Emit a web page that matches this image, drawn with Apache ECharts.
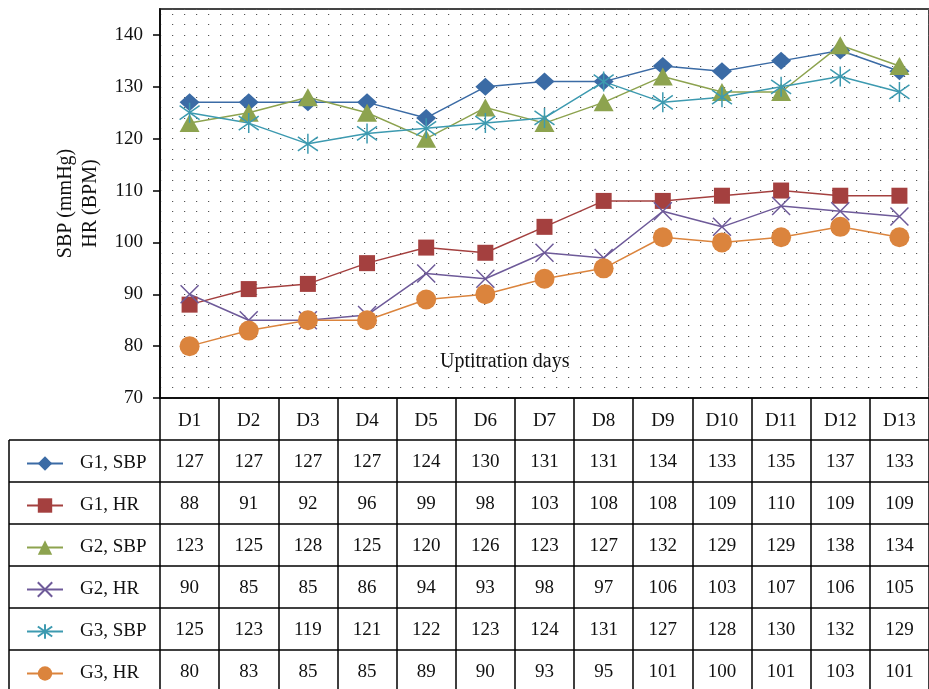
<!DOCTYPE html>
<html><head><meta charset="utf-8">
<script src="https://cdn.jsdelivr.net/npm/echarts@6/dist/echarts.min.js"></script>
<style>html,body{margin:0;padding:0;background:#fff}#c{width:929px;height:689px}</style>
</head><body><div id="c"></div>
<script>
const categories = ['D1','D2','D3','D4','D5','D6','D7','D8','D9','D10','D11','D12','D13'];
const g1SBP = [127,127,127,127,124,130,131,131,134,133,135,137,133];
const g1HR  = [88,91,92,96,99,98,103,108,108,109,110,109,109];
const g2SBP = [123,125,128,125,120,126,123,127,132,129,129,138,134];
const g2HR  = [90,85,85,86,94,93,98,97,106,103,107,106,105];
const g3SBP = [125,123,119,121,122,123,124,131,127,128,130,132,129];
const g3HR  = [80,83,85,85,89,90,93,95,101,100,101,103,101];
const yTicks = [70,80,90,100,110,120,130,140];
const seriesNames = ['G1, SBP','G1, HR','G2, SBP','G2, HR','G3, SBP','G3, HR'];
const seriesData = [g1SBP,g1HR,g2SBP,g2HR,g3SBP,g3HR];

const FONT = '"Liberation Serif", "DejaVu Serif", serif';
const colors = ['#3B6BA5','#A4403F','#8DA34F','#6E5A99','#3D9AB0','#DB843D'];
const symbols = ['diamond','rect','triangle',
  'path://M0,0L10,10M10,0L0,10',
  'path://M5,0L5,10M0,1.5L10,8.5M10,1.5L0,8.5',
  'circle'];
const sizes = [[20,18],16,[20,18],18,20,20];
const strokeOnly = [false,false,false,true,true,false];

const chart = echarts.init(document.getElementById('c'));
const series = seriesNames.map((n,i)=>({
  name:n, type:'line', data:seriesData[i], yAxisIndex:0,
  symbol:symbols[i], symbolSize:sizes[i],
  lineStyle:{color:colors[i], width:1.5},
  itemStyle: strokeOnly[i] ? {color:colors[i], borderColor:colors[i], borderWidth:1.5}
                           : {color:colors[i], borderWidth:0},
  emphasis:{disabled:true}, animation:false
}));

const rowTop = 440, rowH = 42;
const graphics = [];
for (let k=0;k<6;k++){
  graphics.push({type:'line', shape:{x1:9,y1:rowTop+k*rowH,x2:940,y2:rowTop+k*rowH},
    style:{stroke:'#000',lineWidth:1.5}, silent:true});
}
graphics.push({type:'line', shape:{x1:9,y1:rowTop,x2:9,y2:700}, style:{stroke:'#000',lineWidth:1.5}, silent:true});

const legends = seriesNames.map((n,i)=>({
  orient:'vertical', left:21, top:rowTop + rowH*i + 21 - 9 - 5 + 2,
  itemWidth:36, itemHeight:18, selectedMode:false, data:[n],
  textStyle:{fontFamily:FONT, fontSize:19, color:'#111', padding:[0,0,0,12]}
}));

chart.setOption({
  animation:false,
  grid:{left:160, top:9, width:780, height:389, show:true, borderColor:'#444', borderWidth:2},
  title:{text:'Uptitration days', left:435, top:347,
    textStyle:{fontFamily:FONT, fontSize:20, fontWeight:'normal', color:'#111'}},
  legend:legends,
  xAxis:{type:'category', data:categories, boundaryGap:true,
    axisLine:{lineStyle:{color:'#000', width:1.5}},
    axisTick:{show:true, length:292, lineStyle:{color:'#000', width:1.5}},
    axisLabel:{interval:0, margin:4, fontFamily:FONT, fontSize:19, color:'#111',
      formatter:(v,i)=>['{h|'+v+'}'].concat(seriesData.map(a=>'{v|'+a[i]+'}')).join('\n'),
      rich:{
        h:{fontFamily:FONT, fontSize:19, color:'#111', lineHeight:39},
        v:{fontFamily:FONT, fontSize:19, color:'#111', lineHeight:42}
      }},
    splitLine:{show:false}},
  yAxis:[
    {type:'value', min:70, max:145, interval:10,
      name:'SBP (mmHg)\nHR (BPM)', nameLocation:'middle', nameGap:56, nameRotate:90,
      nameTextStyle:{fontFamily:FONT, fontSize:20, color:'#111', lineHeight:25},
      axisLine:{show:true, lineStyle:{color:'#000', width:1.5}},
      axisTick:{show:true, length:7, customValues:yTicks, lineStyle:{color:'#000', width:1.5}},
      axisLabel:{customValues:yTicks, margin:17, fontFamily:FONT, fontSize:19, color:'#111'},
      splitLine:{show:false}},
    {type:'value', min:70, max:145, interval:2, position:'left',
      axisLine:{show:false}, axisTick:{show:false}, axisLabel:{show:false},
      splitLine:{show:true, lineStyle:{color:'#555', width:1.2, type:[1.2,10.8], dashOffset:-12}}}
  ],
  graphic:graphics,
  series:series
});
</script></body></html>
